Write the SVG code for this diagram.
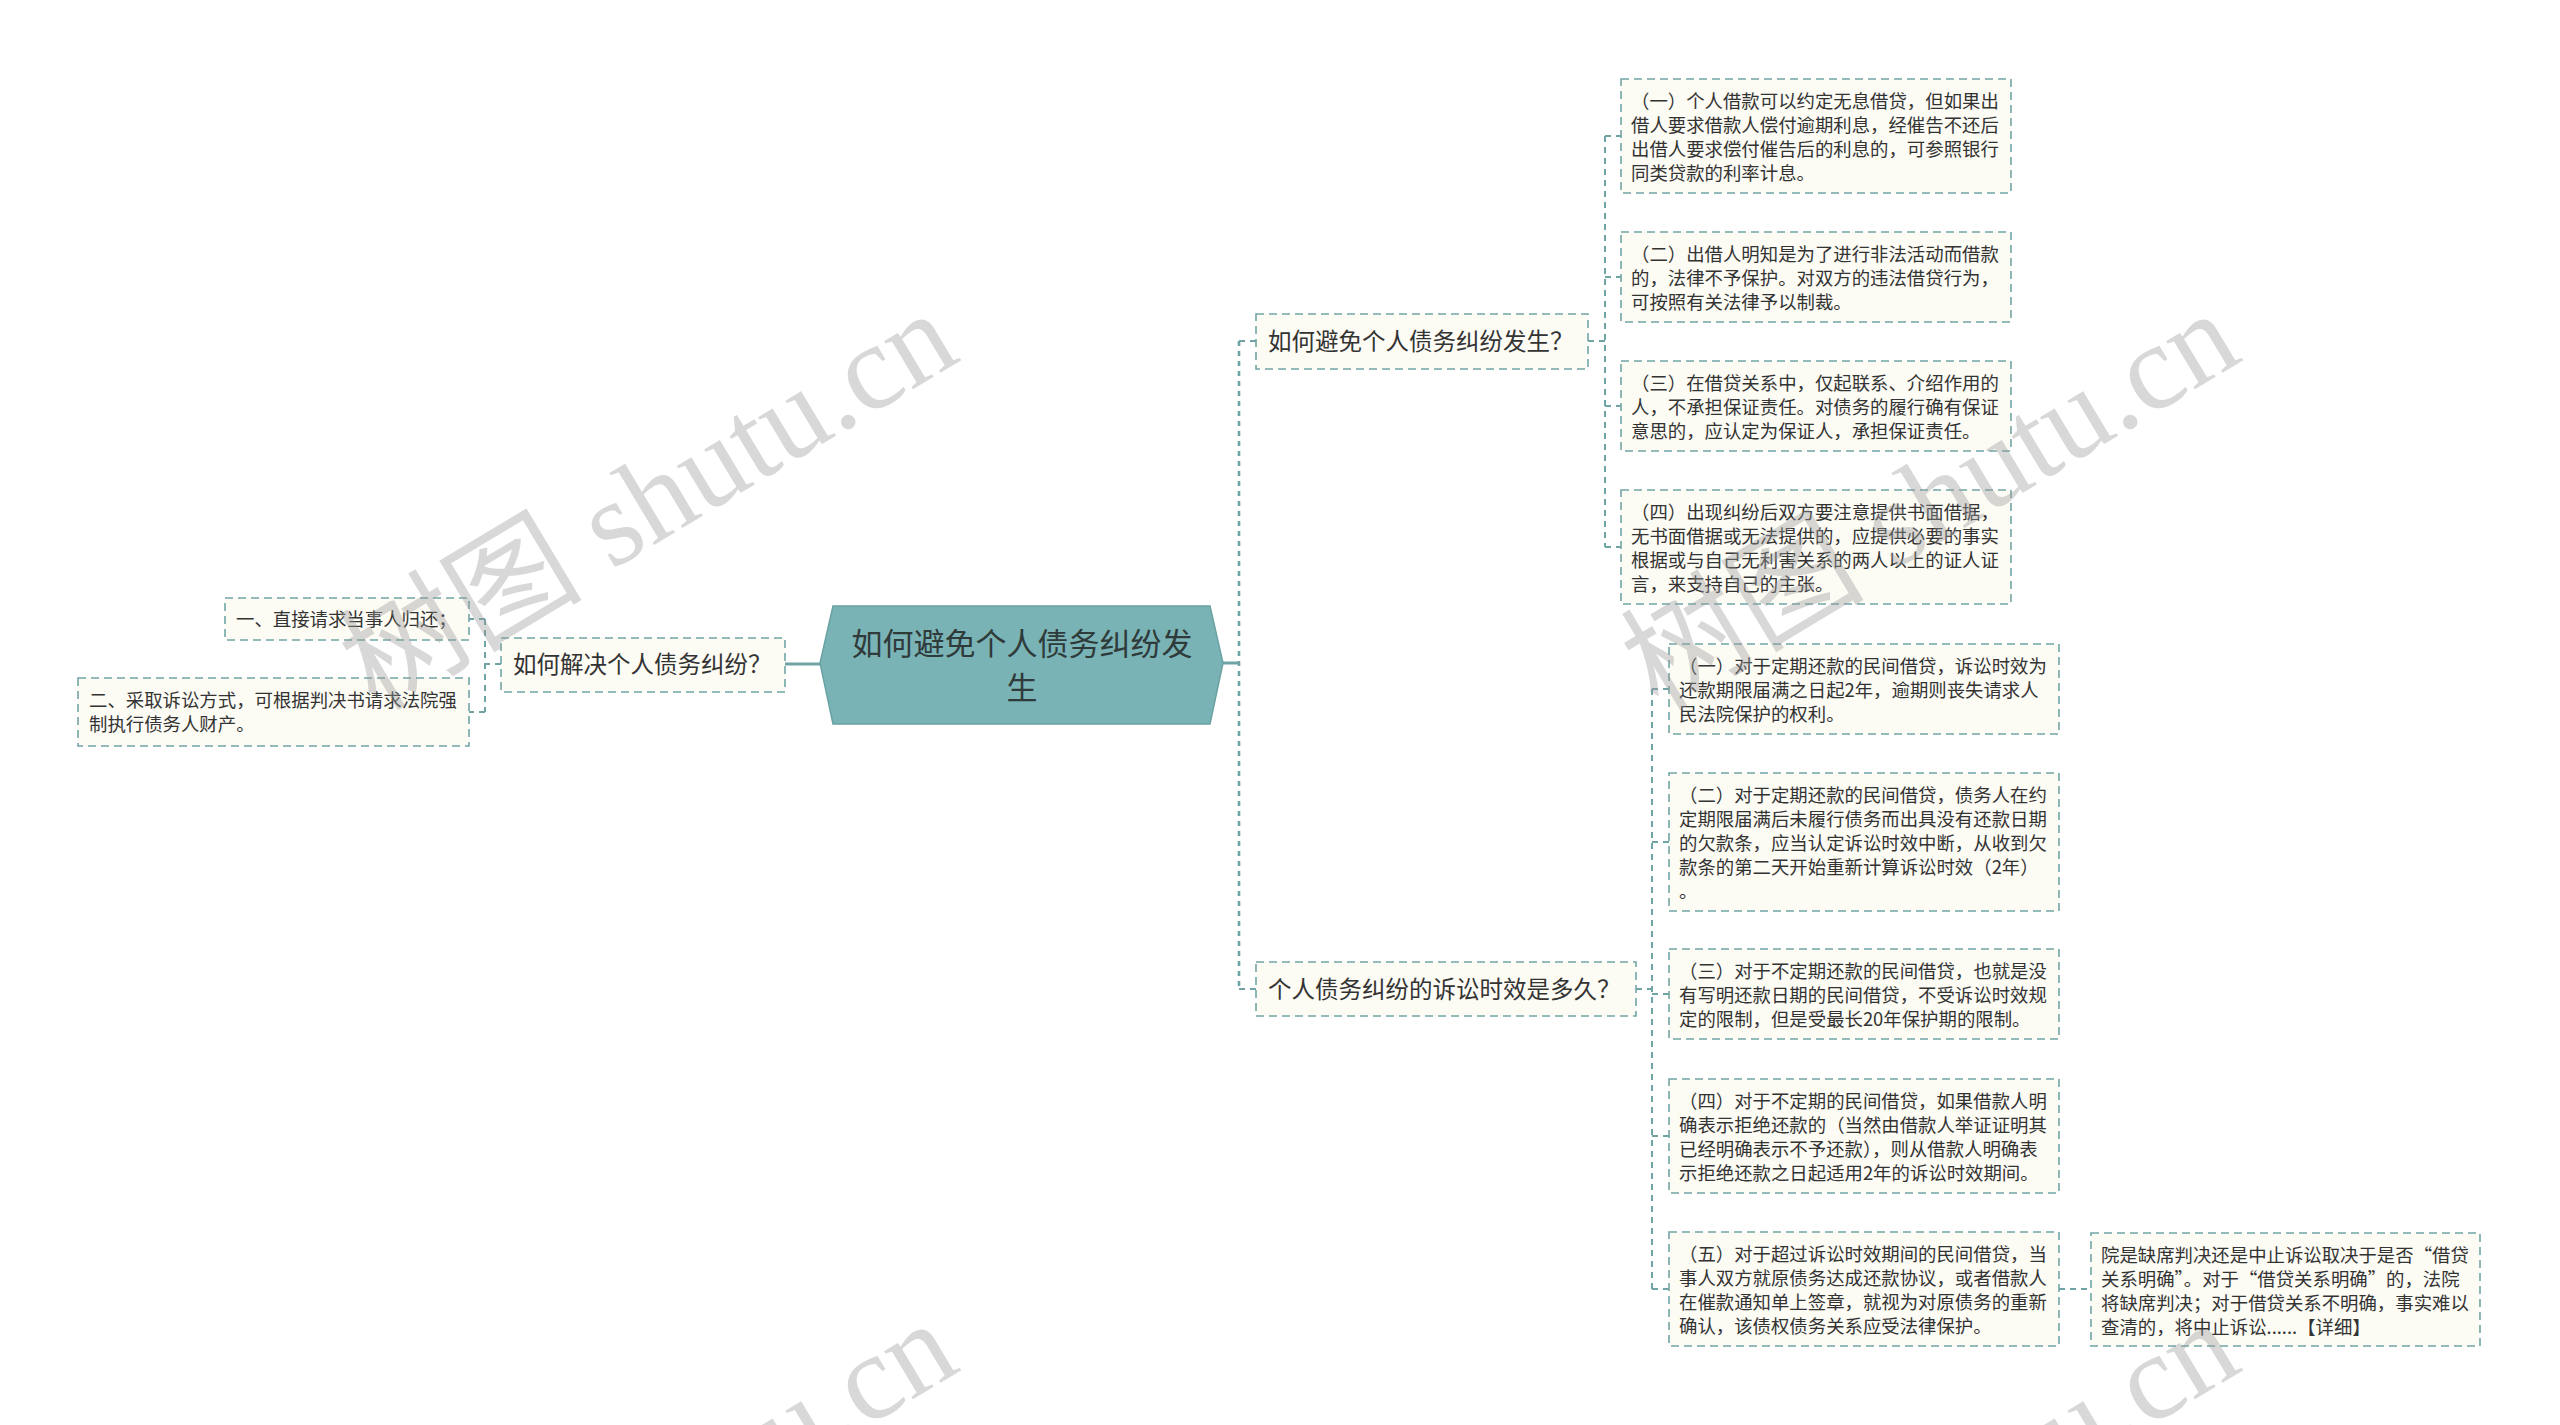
<svg xmlns="http://www.w3.org/2000/svg" width="2560" height="1425" viewBox="0 0 2560 1425">
<style>
.bg{fill:#ffffff}
.box{fill:#fcfbf4;stroke:#72a5a6;stroke-width:1.6;stroke-dasharray:8 5}
.hex{fill:#7ab3b5;stroke:#6aa2a4;stroke-width:1.5}
.t{font-family:"Noto Sans CJK SC","Noto Sans",sans-serif;fill:#333333;font-size:18.4px}
.t1{font-family:"Noto Sans CJK SC","Noto Sans",sans-serif;fill:#333333;font-size:23.5px}
.tc{font-family:"Noto Sans CJK SC","Noto Sans",sans-serif;fill:#2f3a3a;font-size:31px;text-anchor:middle}
.c{stroke:#6fa3a4;stroke-width:2;fill:none;stroke-dasharray:6 5}
.cm{stroke:#6fa3a4;stroke-width:2.6;fill:none;stroke-dasharray:5 5}
.s{stroke:#6fa3a4;stroke-width:3;fill:none}
.wm{font-family:"Liberation Serif","Noto Sans CJK SC",serif;font-size:122px;fill:#9a9a9a;opacity:0.38}
</style>
<rect class="bg" x="0" y="0" width="2560" height="1425"/>

<g id="connectors">
  <path class="s" d="M820 664 H785"/>
  <path class="c" d="M501 664 H485 M485 619 V712 M485 619 H469 M485 712 H469"/>
  <path class="s" d="M1223 663 H1239"/>
  <path class="cm" d="M1239 341 V989"/>
  <path class="c" d="M1239 341 H1256 M1239 989 H1256"/>
  <path class="c" d="M1588 341 H1605 M1605 136 V547 M1605 136 H1621 M1605 277 H1621 M1605 406 H1621 M1605 547 H1621"/>
  <path class="c" d="M1636 989 H1652 M1652 689 V1289 M1652 689 H1669 M1652 842 H1669 M1652 994 H1669 M1652 1136 H1669 M1652 1289 H1669"/>
  <path class="c" d="M2059 1289 H2091"/>
</g>

<g id="center">
  <polygon class="hex" points="833,606 1210,606 1223,663 1210,724 833,724 820,663"/>
  <text class="tc" x="1022" y="655">如何避免个人债务纠纷发</text>
  <text class="tc" x="1022" y="699">生</text>
</g>

<g id="left-branch">
  <rect class="box" x="501" y="638" width="284" height="54"/>
  <text class="t1" x="513" y="673">如何解决个人债务纠纷？</text>
</g>
<g id="left-leaf-1">
  <rect class="box" x="225" y="598" width="244" height="42"/>
  <text class="t" x="236" y="626">一、直接请求当事人归还；</text>
</g>
<g id="left-leaf-2">
  <rect class="box" x="78" y="678" width="391" height="68"/>
  <text class="t" x="89" y="707">二、采取诉讼方式，可根据判决书请求法院强</text>
  <text class="t" x="89" y="731">制执行债务人财产。</text>
</g>

<g id="branch-1">
  <rect class="box" x="1256" y="314" width="332" height="55"/>
  <text class="t1" x="1268" y="350">如何避免个人债务纠纷发生？</text>
</g>
<g id="branch-2">
  <rect class="box" x="1256" y="962" width="380" height="54"/>
  <text class="t1" x="1268" y="998">个人债务纠纷的诉讼时效是多久？</text>
</g>

<g id="b1-leaf-1">
  <rect class="box" x="1621" y="79" width="390" height="114"/>
  <text class="t" x="1631" y="108">（一）个人借款可以约定无息借贷，但如果出</text>
  <text class="t" x="1631" y="132">借人要求借款人偿付逾期利息，经催告不还后</text>
  <text class="t" x="1631" y="156">出借人要求偿付催告后的利息的，可参照银行</text>
  <text class="t" x="1631" y="180">同类贷款的利率计息。</text>
</g>
<g id="b1-leaf-2">
  <rect class="box" x="1621" y="232" width="390" height="90"/>
  <text class="t" x="1631" y="261">（二）出借人明知是为了进行非法活动而借款</text>
  <text class="t" x="1631" y="285">的，法律不予保护。对双方的违法借贷行为，</text>
  <text class="t" x="1631" y="309">可按照有关法律予以制裁。</text>
</g>
<g id="b1-leaf-3">
  <rect class="box" x="1621" y="361" width="390" height="90"/>
  <text class="t" x="1631" y="390">（三）在借贷关系中，仅起联系、介绍作用的</text>
  <text class="t" x="1631" y="414">人，不承担保证责任。对债务的履行确有保证</text>
  <text class="t" x="1631" y="438">意思的，应认定为保证人，承担保证责任。</text>
</g>
<g id="b1-leaf-4">
  <rect class="box" x="1621" y="490" width="390" height="114"/>
  <text class="t" x="1631" y="519">（四）出现纠纷后双方要注意提供书面借据，</text>
  <text class="t" x="1631" y="543">无书面借据或无法提供的，应提供必要的事实</text>
  <text class="t" x="1631" y="567">根据或与自己无利害关系的两人以上的证人证</text>
  <text class="t" x="1631" y="591">言，来支持自己的主张。</text>
</g>

<g id="b2-leaf-1">
  <rect class="box" x="1669" y="644" width="390" height="90"/>
  <text class="t" x="1679" y="673">（一）对于定期还款的民间借贷，诉讼时效为</text>
  <text class="t" x="1679" y="697">还款期限届满之日起2年，逾期则丧失请求人</text>
  <text class="t" x="1679" y="721">民法院保护的权利。</text>
</g>
<g id="b2-leaf-2">
  <rect class="box" x="1669" y="773" width="390" height="138"/>
  <text class="t" x="1679" y="802">（二）对于定期还款的民间借贷，债务人在约</text>
  <text class="t" x="1679" y="826">定期限届满后未履行债务而出具没有还款日期</text>
  <text class="t" x="1679" y="850">的欠款条，应当认定诉讼时效中断，从收到欠</text>
  <text class="t" x="1679" y="874">款条的第二天开始重新计算诉讼时效（2年）</text>
  <text class="t" x="1679" y="898">。</text>
</g>
<g id="b2-leaf-3">
  <rect class="box" x="1669" y="949" width="390" height="90"/>
  <text class="t" x="1679" y="978">（三）对于不定期还款的民间借贷，也就是没</text>
  <text class="t" x="1679" y="1002">有写明还款日期的民间借贷，不受诉讼时效规</text>
  <text class="t" x="1679" y="1026">定的限制，但是受最长20年保护期的限制。</text>
</g>
<g id="b2-leaf-4">
  <rect class="box" x="1669" y="1079" width="390" height="114"/>
  <text class="t" x="1679" y="1108">（四）对于不定期的民间借贷，如果借款人明</text>
  <text class="t" x="1679" y="1132">确表示拒绝还款的（当然由借款人举证证明其</text>
  <text class="t" x="1679" y="1156">已经明确表示不予还款），则从借款人明确表</text>
  <text class="t" x="1679" y="1180">示拒绝还款之日起适用2年的诉讼时效期间。</text>
</g>
<g id="b2-leaf-5">
  <rect class="box" x="1669" y="1232" width="390" height="114"/>
  <text class="t" x="1679" y="1261">（五）对于超过诉讼时效期间的民间借贷，当</text>
  <text class="t" x="1679" y="1285">事人双方就原债务达成还款协议，或者借款人</text>
  <text class="t" x="1679" y="1309">在催款通知单上签章，就视为对原债务的重新</text>
  <text class="t" x="1679" y="1333">确认，该债权债务关系应受法律保护。</text>
</g>
<g id="b2-leaf-5-detail">
  <rect class="box" x="2091" y="1233" width="389" height="113"/>
  <text class="t" x="2101" y="1262">院是缺席判决还是中止诉讼取决于是否“借贷</text>
  <text class="t" x="2101" y="1286">关系明确”。对于“借贷关系明确”的，法院</text>
  <text class="t" x="2101" y="1310">将缺席判决；对于借贷关系不明确，事实难以</text>
  <text class="t" x="2101" y="1334">查清的，将中止诉讼......【详细】</text>
</g>

<g id="watermarks">
  <text class="wm" transform="translate(376 712) rotate(-31)">树图 shutu.cn</text>
  <text class="wm" transform="translate(1658 712) rotate(-31)">树图 shutu.cn</text>
  <text class="wm" transform="translate(376 1722) rotate(-31)">树图 shutu.cn</text>
  <text class="wm" transform="translate(1658 1722) rotate(-31)">树图 shutu.cn</text>
</g>
</svg>
